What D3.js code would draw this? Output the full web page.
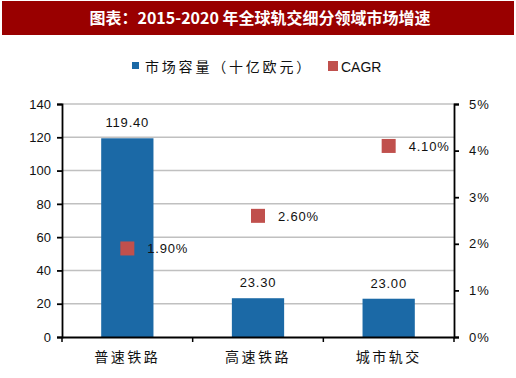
<!DOCTYPE html>
<html>
<head>
<meta charset="utf-8">
<script src="https://cdn.jsdelivr.net/npm/d3@7"></script>
<style>
	body { margin: 0; background: #fff; }
	svg { display: block; }
</style>
</head>
<body>
<div id="chart"></div>
<script>
// data
const categories = ["普速铁路", "高速铁路", "城市轨交"];
const marketSize = [119.4, 23.3, 23.0];
const cagr = [0.019, 0.026, 0.041];
const leftTicks = [0, 20, 40, 60, 80, 100, 120, 140];
const rightTicks = [0, 0.01, 0.02, 0.03, 0.04, 0.05];
const titleText = "图表：2015-2020 年全球轨交细分领域市场增速";
const legendNames = ["市场容量（十亿欧元）", "CAGR"];

const width = 516;
const height = 378;
const margin = { top: 104, left: 62, right: 62, bottom: 41 };
const blue = "#1b69a6";
const red = "#c0504d";
const cjk = "'Noto Sans CJK SC', sans-serif";
const latin = "'Liberation Sans', Arial, sans-serif";

const svg = d3
	.select("#chart")
	.append("svg")
	.attr("width", width)
	.attr("height", height);

// title bar
svg.append("rect")
	.attr("x", 2)
	.attr("y", 1)
	.attr("width", 512)
	.attr("height", 34)
	.attr("fill", "#990000");
svg.append("text")
	.attr("x", 260)
	.attr("y", 24)
	.attr("text-anchor", "middle")
	.attr("fill", "#fff")
	.style("font-family", cjk)
	.style("font-weight", "bold")
	.style("font-size", "16px")
	.text(titleText);

const xScale = d3
	.scaleBand()
	.domain(categories)
	.range([margin.left, width - margin.right])
	.paddingInner(0.6)
	.paddingOuter(0.3);

const yLeft = d3
	.scaleLinear()
	.domain([0, 140])
	.range([height - margin.bottom, margin.top]);

const yRight = d3
	.scaleLinear()
	.domain([0, 0.05])
	.range([height - margin.bottom, margin.top]);

// gridlines
svg.append("g")
	.selectAll("line")
	.data(leftTicks.filter((d) => d > 0))
	.join("line")
	.attr("x1", margin.left)
	.attr("x2", width - margin.right)
	.attr("y1", (d) => yLeft(d))
	.attr("y2", (d) => yLeft(d))
	.attr("stroke", "#c0c0c0")
	.attr("stroke-width", 1.5);

// bars
svg.append("g")
	.selectAll("rect")
	.data(marketSize)
	.join("rect")
	.attr("x", (d, i) => xScale(categories[i]))
	.attr("y", (d) => yLeft(d))
	.attr("width", xScale.bandwidth())
	.attr("height", (d) => yLeft(0) - yLeft(d))
	.attr("fill", blue);

// bar value labels
svg.append("g")
	.selectAll("text")
	.data(marketSize)
	.join("text")
	.attr("x", (d, i) => xScale(categories[i]) + xScale.bandwidth() / 2)
	.attr("y", (d) => yLeft(d) - 11)
	.attr("text-anchor", "middle")
	.style("font-family", latin)
	.style("font-size", "13px")
	.style("letter-spacing", "0.8px")
	.attr("fill", "#111")
	.text((d) => d.toFixed(2));

// CAGR markers
const ms = 14;
svg.append("g")
	.selectAll("rect")
	.data(cagr)
	.join("rect")
	.attr("x", (d, i) => xScale(categories[i]) + xScale.bandwidth() / 2 - ms / 2)
	.attr("y", (d) => yRight(d) - ms / 2)
	.attr("width", ms)
	.attr("height", ms)
	.attr("fill", red);

svg.append("g")
	.selectAll("text")
	.data(cagr)
	.join("text")
	.attr("x", (d, i) => xScale(categories[i]) + xScale.bandwidth() / 2 + 20)
	.attr("y", (d) => yRight(d) + 5)
	.style("font-family", latin)
	.style("font-size", "13px")
	.style("letter-spacing", "0.8px")
	.attr("fill", "#111")
	.text((d) => (d * 100).toFixed(2) + "%");

// axes
const leftAxis = svg
	.append("g")
	.attr("transform", `translate(${margin.left},0)`)
	.call(d3.axisLeft(yLeft).tickValues(leftTicks).tickSize(5).tickPadding(6));

const rightAxis = svg
	.append("g")
	.attr("transform", `translate(${width - margin.right},0)`)
	.call(
		d3
			.axisRight(yRight)
			.tickValues(rightTicks)
			.tickSize(5)
			.tickPadding(10)
			.tickFormat((d) => Math.round(d * 100) + "%")
	);

const bottomAxis = svg
	.append("g")
	.attr("transform", `translate(0,${height - margin.bottom})`)
	.call(d3.axisBottom(xScale).tickSize(0).tickPadding(15));

// category boundary ticks on the x axis
const step = (width - margin.left - margin.right) / categories.length;
svg.append("g")
	.selectAll("line")
	.data(d3.range(categories.length + 1))
	.join("line")
	.attr("x1", (i) => margin.left + i * step)
	.attr("x2", (i) => margin.left + i * step)
	.attr("y1", height - margin.bottom)
	.attr("y2", height - margin.bottom + 5)
	.attr("stroke", "#000")
	.attr("stroke-width", 1.5);

for (let ax of [leftAxis, rightAxis, bottomAxis]) {
	ax.select(".domain").attr("stroke", "#000").attr("stroke-width", 1.8);
	ax.selectAll(".tick line").attr("stroke", "#000").attr("stroke-width", 1.8);
	ax.selectAll("text").attr("fill", "#111");
}
leftAxis.selectAll("text").style("font-family", latin).style("font-size", "13px");
rightAxis.selectAll("text").style("font-family", latin).style("font-size", "13px").style("letter-spacing", "1px");
bottomAxis.selectAll("text").style("font-family", cjk).style("font-size", "14px").style("letter-spacing", "2.5px");

// legend
const legend = svg.append("g");
legend.append("rect")
	.attr("x", 132).attr("y", 62).attr("width", 7).attr("height", 7)
	.attr("fill", blue);
legend.append("text")
	.attr("x", 145).attr("y", 72)
	.style("font-family", cjk)
	.style("font-size", "14px")
	.style("letter-spacing", "2.8px")
	.attr("fill", "#111")
	.text(legendNames[0]);
legend.append("rect")
	.attr("x", 328).attr("y", 61).attr("width", 10).attr("height", 10)
	.attr("fill", red);
legend.append("text")
	.attr("x", 341).attr("y", 72)
	.style("font-family", latin)
	.style("font-size", "14px")
	.attr("fill", "#111")
	.text(legendNames[1]);
</script>
</body>
</html>
